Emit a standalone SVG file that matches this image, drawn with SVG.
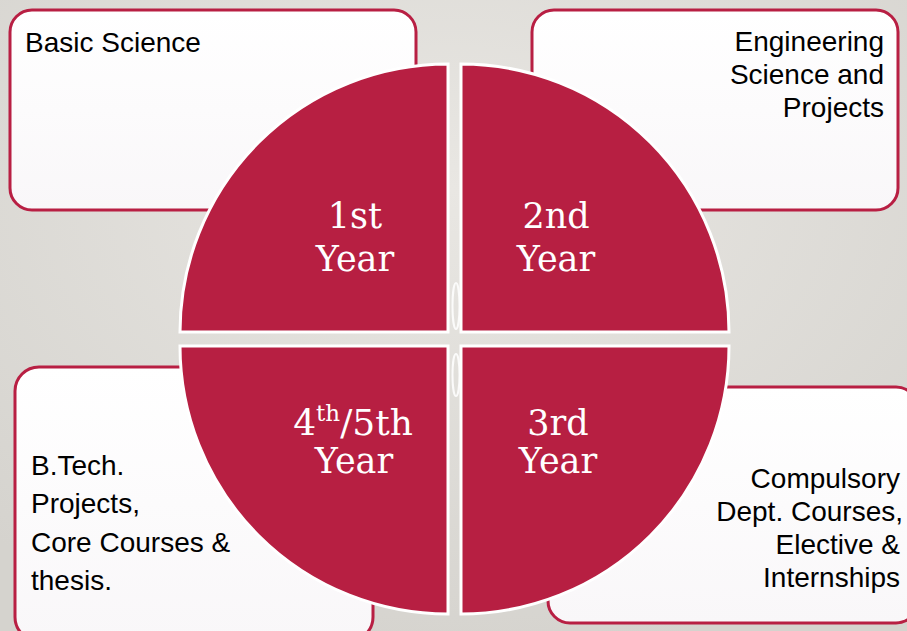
<svg xmlns="http://www.w3.org/2000/svg" width="907" height="631" viewBox="0 0 907 631">
  <defs>
    <radialGradient id="bg" cx="50%" cy="30%" r="75%">
      <stop offset="0" stop-color="#e9e7e3"/>
      <stop offset="1" stop-color="#d5d3ce"/>
    </radialGradient>
    <linearGradient id="boxFill" x1="0" y1="0" x2="0" y2="1">
      <stop offset="0" stop-color="#ffffff"/>
      <stop offset="1" stop-color="#f9f7f9"/>
    </linearGradient>
    <style>
      .box { fill: url(#boxFill); stroke: #b81f43; stroke-width: 3; }
      .quad { fill: #b71f42; stroke: #ffffff; stroke-width: 3; stroke-linejoin: miter; }
      .label { font-family: "Liberation Sans", Arial, sans-serif; font-size: 28px; fill: #000000; }
      .end { text-anchor: end; }
      .year { font-family: "DejaVu Serif", Georgia, serif; font-size: 35px; fill: #ffffff; text-anchor: middle; }
      .loop { fill: none; stroke: #ffffff; stroke-width: 2; opacity: 0.85; }
    </style>
  </defs>

  <rect x="0" y="0" width="907" height="631" fill="url(#bg)"/>

  <!-- description boxes -->
  <g id="box-basic-science">
    <rect class="box" x="10" y="10" width="406" height="200" rx="22" ry="22"/>
    <text class="label" x="25" y="52">Basic Science</text>
  </g>

  <g id="box-engineering-science">
    <rect class="box" x="532" y="10" width="366" height="200" rx="22" ry="22"/>
    <text class="label end" x="884" y="51">Engineering</text>
    <text class="label end" x="884" y="84">Science and</text>
    <text class="label end" x="884" y="117">Projects</text>
  </g>

  <g id="box-btech-projects">
    <rect class="box" x="15" y="367" width="358" height="274" rx="24" ry="24"/>
    <text class="label" x="31" y="475">B.Tech.</text>
    <text class="label" x="31" y="513">Projects,</text>
    <text class="label" x="31" y="552">Core Courses &amp;</text>
    <text class="label" x="31" y="590">thesis.</text>
  </g>

  <g id="box-compulsory-courses">
    <rect class="box" x="548" y="387" width="370" height="236" rx="22" ry="22"/>
    <text class="label end" x="900" y="488">Compulsory</text>
    <text class="label end" x="903" y="521">Dept. Courses,</text>
    <text class="label end" x="900" y="554">Elective &amp;</text>
    <text class="label end" x="900" y="587">Internships</text>
  </g>

  <!-- cycle loops in the central gap -->
  <g id="connectors">
    <ellipse class="loop" cx="456" cy="306" rx="3.5" ry="23"/>
    <ellipse class="loop" cx="456" cy="375" rx="3.5" ry="21"/>
  </g>

  <!-- circle quadrants -->
  <g id="year-1">
    <path class="quad" d="M448,332 L180,332 A268,268 0 0 1 448,64 Z"/>
    <text class="year" x="355" y="228">1st</text>
    <text class="year" x="355" y="271">Year</text>
  </g>

  <g id="year-2">
    <path class="quad" d="M461,332 L461,64 A268,268 0 0 1 729,332 Z"/>
    <text class="year" x="556" y="228">2nd</text>
    <text class="year" x="556" y="271">Year</text>
  </g>

  <g id="year-3">
    <path class="quad" d="M461,346 L729,346 A268,268 0 0 1 461,614 Z"/>
    <text class="year" x="558" y="435">3rd</text>
    <text class="year" x="558" y="473">Year</text>
  </g>

  <g id="year-4-5">
    <path class="quad" d="M448,346 L448,614 A268,268 0 0 1 180,346 Z"/>
    <text class="year" x="353" y="435" style="font-size:36px">4<tspan style="font-size:23px" dy="-14">th</tspan><tspan dy="14">/5th</tspan></text>
    <text class="year" x="354" y="473">Year</text>
  </g>
</svg>
